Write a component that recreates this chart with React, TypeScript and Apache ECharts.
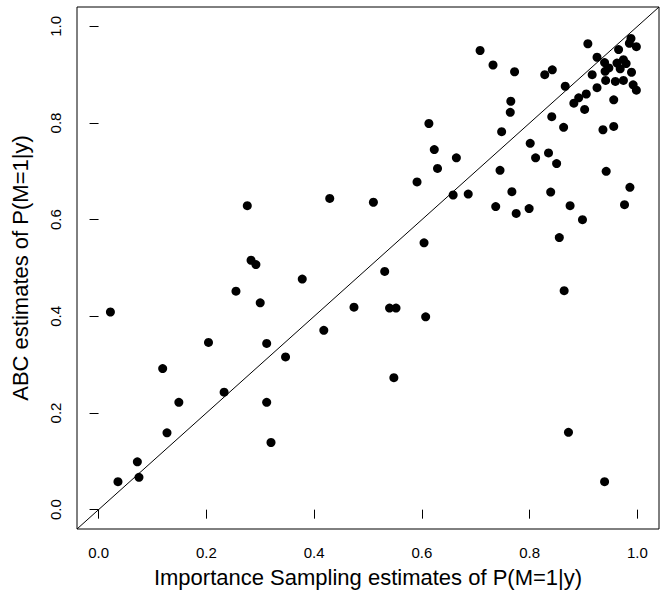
import React, { useEffect, useRef } from "react";
import * as echarts from "echarts";

const xTicks = [0, 0.2, 0.4, 0.6, 0.8, 1.0];
const yTicks = [0, 0.2, 0.4, 0.6, 0.8, 1.0];
const xTitle = "Importance Sampling estimates of P(M=1|y)";
const yTitle = "ABC estimates of P(M=1|y)";
const diagonal = [-0.04, 1.04];

// Importance sampling estimates (x)
const isEstimates = [
  0.022, 0.255, 0.300, 0.378, 0.204, 0.312, 0.418, 0.347, 0.119, 0.233,
  0.149, 0.312, 0.127, 0.320, 0.072, 0.036, 0.075, 0.276, 0.283, 0.292,
  0.623, 0.664, 0.629, 0.591, 0.429, 0.510, 0.745, 0.658, 0.686, 0.811,
  0.835, 0.850, 0.767, 0.737, 0.775, 0.799, 0.839, 0.875, 0.898, 0.942,
  0.986, 0.976, 0.855, 0.604, 0.531, 0.474, 0.540, 0.552, 0.607, 0.864,
  0.548, 0.872, 0.939, 0.801, 0.613,
  0.708, 0.732, 0.772, 0.828, 0.842, 0.866, 0.765, 0.764, 0.841, 0.748,
  0.863, 0.908, 0.988, 0.985, 0.998, 0.965, 0.925, 0.939, 0.974, 0.979,
  0.962, 0.947, 0.940, 0.968, 0.989, 0.916, 0.941, 0.959, 0.974, 0.992,
  0.998, 0.925, 0.905, 0.891, 0.882, 0.902, 0.956, 0.936, 0.956,
];

// ABC estimates (y)
const abcEstimates = [
  0.409, 0.452, 0.428, 0.477, 0.346, 0.344, 0.371, 0.316, 0.292, 0.243,
  0.222, 0.222, 0.159, 0.139, 0.099, 0.058, 0.067, 0.629, 0.516, 0.507,
  0.745, 0.728, 0.706, 0.678, 0.644, 0.636, 0.702, 0.651, 0.653, 0.728,
  0.738, 0.716, 0.658, 0.627, 0.613, 0.623, 0.657, 0.629, 0.600, 0.700,
  0.667, 0.631, 0.563, 0.552, 0.493, 0.419, 0.417, 0.417, 0.399, 0.453,
  0.273, 0.160, 0.058, 0.758, 0.799,
  0.950, 0.920, 0.906, 0.900, 0.910, 0.876, 0.845, 0.822, 0.813, 0.782,
  0.791, 0.964, 0.975, 0.965, 0.958, 0.952, 0.936, 0.925, 0.931, 0.923,
  0.924, 0.914, 0.907, 0.912, 0.905, 0.900, 0.888, 0.886, 0.888, 0.879,
  0.868, 0.873, 0.860, 0.852, 0.841, 0.828, 0.848, 0.786, 0.793,
];

const FONT = "'Liberation Sans', Arial, Helvetica, sans-serif";

export default function App() {
  const ref = useRef<HTMLDivElement>(null);
  useEffect(() => {
    if (!ref.current) return;
    const chart = echarts.init(ref.current, undefined, { renderer: "svg" });
    const points = isEstimates.map((x, i) => [x, abcEstimates[i]]);
    chart.setOption({
      animation: false,
      backgroundColor: "#fff",
      grid: {
        left: 77,
        top: 7,
        right: 7,
        bottom: 63,
        show: true,
        borderColor: "#000",
        borderWidth: 1,
        backgroundColor: "transparent",
      },
      xAxis: {
        type: "value",
        min: -0.04,
        max: 1.04,
        name: xTitle,
        nameLocation: "middle",
        nameGap: 37,
        nameTextStyle: { fontFamily: FONT, fontSize: 22, color: "#000" },
        axisLine: { show: false },
        splitLine: { show: false },
        axisTick: {
          show: true,
          customValues: xTicks,
          length: 9,
          lineStyle: { color: "#000", width: 1 },
        },
        axisLabel: {
          customValues: xTicks,
          margin: 16,
          fontFamily: FONT,
          fontSize: 15,
          color: "#000",
          formatter: (v: number) => v.toFixed(1),
        },
      },
      yAxis: {
        type: "value",
        min: -0.04,
        max: 1.04,
        name: yTitle,
        nameLocation: "middle",
        nameGap: 46,
        nameTextStyle: { fontFamily: FONT, fontSize: 22, color: "#000" },
        axisLine: { show: false },
        splitLine: { show: false },
        axisTick: {
          show: true,
          customValues: yTicks,
          length: 9,
          lineStyle: { color: "#000", width: 1 },
        },
        axisLabel: {
          customValues: yTicks,
          rotate: 90,
          margin: 14,
          fontFamily: FONT,
          fontSize: 15,
          color: "#000",
          formatter: (v: number) => v.toFixed(1),
        },
      },
      series: [
        {
          type: "line",
          data: [
            [diagonal[0], diagonal[0]],
            [diagonal[1], diagonal[1]],
          ],
          showSymbol: false,
          symbol: "none",
          lineStyle: { color: "#000", width: 1 },
          silent: true,
          z: 1,
        },
        {
          type: "scatter",
          data: points,
          symbol: "circle",
          symbolSize: 9,
          itemStyle: { color: "#000", opacity: 1 },
          z: 2,
        },
      ],
    });
    return () => chart.dispose();
  }, []);
  return (
    <div
      ref={ref}
      style={{ position: "fixed", left: 0, top: 0, width: 666, height: 593, background: "#fff" }}
    />
  );
}
